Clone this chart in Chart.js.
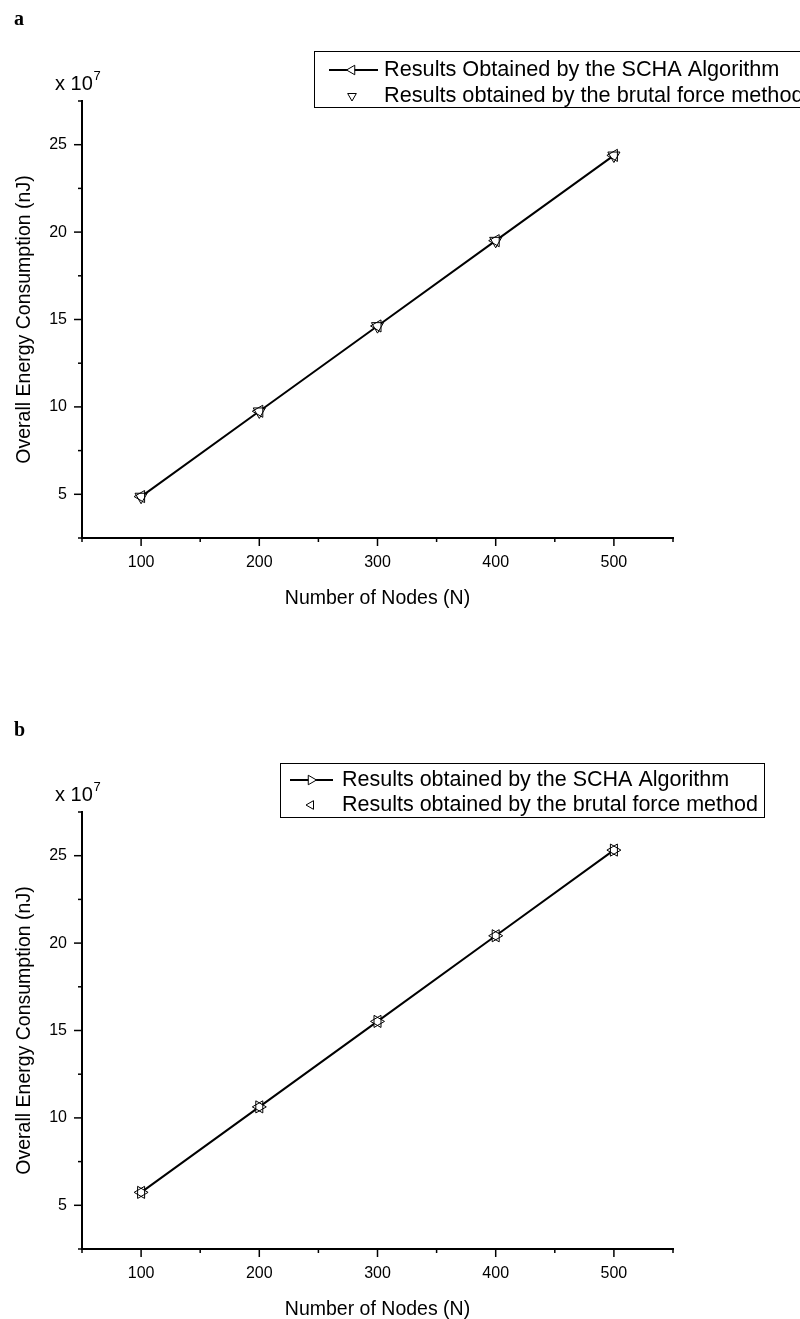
<!DOCTYPE html>
<html>
<head>
<meta charset="utf-8">
<script src="https://cdn.jsdelivr.net/npm/chart.js@4.4.1/dist/chart.umd.min.js"></script>
<style>
  html, body { margin: 0; padding: 0; background: #fff; }
  body { width: 800px; height: 1319px; position: relative; overflow: hidden; }
  .panel { position: absolute; left: 0; width: 800px; height: 612px; }
</style>
</head>
<body>
<div class="panel" style="top:0px"><canvas id="chartA" width="800" height="612"></canvas></div>
<div class="panel" style="top:711px"><canvas id="chartB" width="800" height="612"></canvas></div>
<script>
// ---- data (values in units of 10^7 nJ) ----
const nodes = [100, 200, 300, 400, 500];
const schaA = [4.87, 9.75, 14.63, 19.51, 24.39];
const bruteA = [4.86, 9.74, 14.62, 19.50, 24.38];
const schaB = [5.74, 10.63, 15.52, 20.42, 25.32];
const bruteB = [5.74, 10.63, 15.52, 20.42, 25.32];

const xMajorTicks = [100, 200, 300, 400, 500];
const xMinorTicks = [50, 150, 250, 350, 450, 550];
const yMajorTicks = [5, 10, 15, 20, 25];
const yMinorTicks = [2.5, 7.5, 12.5, 17.5, 22.5, 27.5];

const labelsA = ['Results Obtained by the SCHA Algorithm', 'Results obtained by the brutal force method'];
const labelsB = ['Results obtained by the SCHA Algorithm', 'Results obtained by the brutal force method'];

const FONT = "'Liberation Sans', Arial, sans-serif";

function tri(ctx, cx, cy, r, rotDeg, fill) {
  let rad = rotDeg * Math.PI / 180;
  ctx.beginPath();
  ctx.moveTo(cx + Math.sin(rad) * r, cy - Math.cos(rad) * r);
  rad += 2 * Math.PI / 3;
  ctx.lineTo(cx + Math.sin(rad) * r, cy - Math.cos(rad) * r);
  rad += 2 * Math.PI / 3;
  ctx.lineTo(cx + Math.sin(rad) * r, cy - Math.cos(rad) * r);
  ctx.closePath();
  if (fill) { ctx.fillStyle = fill; ctx.fill(); }
  ctx.lineWidth = 1;
  ctx.strokeStyle = '#000';
  ctx.stroke();
}

const decor = {
  id: 'decor',
  afterDraw(chart, args, o) {
    const ctx = chart.ctx;
    const xs = chart.scales.x, ys = chart.scales.y;
    ctx.save();
    ctx.strokeStyle = '#000';
    ctx.lineWidth = 1.5;
    const ln = (a, b, c, d) => { ctx.beginPath(); ctx.moveTo(a, b); ctx.lineTo(c, d); ctx.stroke(); };
    const axY = chart.chartArea.bottom, axX = chart.chartArea.left;
    xMajorTicks.forEach(v => { const p = xs.getPixelForValue(v); ln(p, axY, p, axY + 8); });
    xMinorTicks.forEach(v => { const p = xs.getPixelForValue(v); ln(p, axY, p, axY + 4); });
    yMajorTicks.forEach(v => { const p = ys.getPixelForValue(v); ln(axX - 8, p, axX, p); });
    yMinorTicks.forEach(v => { const p = ys.getPixelForValue(v); ln(axX - 4, p, axX, p); });

    // panel letter
    ctx.fillStyle = '#000';
    ctx.textBaseline = 'alphabetic';
    ctx.textAlign = 'left';
    ctx.font = "bold 20px 'Liberation Serif', 'Times New Roman', serif";
    ctx.fillText(o.letter, 14, 25);

    // exponent label
    ctx.font = '20px ' + FONT;
    ctx.fillText('x 10', 55, 90);
    ctx.font = '13px ' + FONT;
    ctx.fillText('7', 93.5, 80);

    // legend
    const L = o.legend;
    ctx.lineWidth = 1;
    ctx.strokeStyle = '#000';
    ctx.strokeRect(L.x + 0.5, L.y + 0.5, L.w, L.h);
    const ds = chart.data.datasets;
    ctx.lineWidth = 2;
    ln(L.lineX1, L.row1, L.lineX2, L.row1);
    tri(ctx, L.triX, L.row1, 5.5, ds[0].pointRotation, '#fff');
    tri(ctx, L.triX, L.row2, 5, ds[1].pointRotation, '#fff');
    ctx.fillStyle = '#000';
    ctx.font = L.font + 'px ' + FONT;
    ctx.textBaseline = 'middle';
    ctx.fillText(ds[0].label, L.textX, L.row1);
    ctx.fillText(ds[1].label, L.textX, L.row2);
    ctx.restore();
  }
};

function makeChart(id, scha, brute, labels, rotS, rotB, letter, legend) {
  new Chart(document.getElementById(id), {
    type: 'line',
    data: {
      datasets: [
        {
          label: labels[0],
          data: nodes.map((n, i) => ({ x: n, y: scha[i] })),
          borderColor: '#000', borderWidth: 2,
          pointStyle: 'triangle', pointRotation: rotS, pointRadius: 7,
          pointBackgroundColor: '#fff', pointBorderColor: '#000', pointBorderWidth: 1,
          showLine: true, tension: 0, order: 2
        },
        {
          label: labels[1],
          data: nodes.map((n, i) => ({ x: n, y: brute[i] })),
          borderColor: '#000', showLine: false,
          pointStyle: 'triangle', pointRotation: rotB, pointRadius: 7,
          pointBackgroundColor: 'rgba(0,0,0,0)', pointBorderColor: '#000', pointBorderWidth: 1,
          order: 1
        }
      ]
    },
    options: {
      responsive: false,
      animation: false,
      devicePixelRatio: 1,
      layout: { padding: { top: 101, right: 127, left: 0, bottom: 0 } },
      plugins: { legend: { display: false }, tooltip: { enabled: false }, decor: { letter, legend } },
      scales: {
        x: {
          type: 'linear', position: 'bottom', min: 50, max: 550,
          afterBuildTicks: s => { s.ticks = xMajorTicks.map(v => ({ value: v })); },
          afterFit: s => { s.height = 74; },
          grid: { display: false, drawTicks: false },
          border: { display: true, color: '#000', width: 2 },
          ticks: { color: '#000', font: { family: FONT, size: 16 }, padding: 15, maxRotation: 0, autoSkip: false },
          title: { display: true, text: 'Number of Nodes (N)', color: '#000', font: { family: FONT, size: 19.5 }, padding: { top: 0, bottom: 2 } }
        },
        y: {
          type: 'linear', position: 'left', min: 2.5, max: 27.5,
          afterBuildTicks: s => { s.ticks = yMajorTicks.map(v => ({ value: v })); },
          afterFit: s => { s.width = 82; },
          grid: { display: false, drawTicks: false },
          border: { display: true, color: '#000', width: 2 },
          ticks: { color: '#000', font: { family: FONT, size: 16 }, padding: 15, autoSkip: false },
          title: { display: true, text: 'Overall Energy Consumption (nJ)', color: '#000', font: { family: FONT, size: 19.5 }, padding: { top: 13, bottom: 0 } }
        }
      }
    },
    plugins: [decor]
  });
}

makeChart('chartA', schaA, bruteA, labelsA, 270, 180, 'a',
  { x: 314, y: 51, w: 520, h: 56, row1: 70, row2: 96, lineX1: 329, lineX2: 378, triX: 352, textX: 384, font: 21.7 });
makeChart('chartB', schaB, bruteB, labelsB, 90, 270, 'b',
  { x: 280, y: 52, w: 484, h: 54, row1: 69, row2: 94, lineX1: 290, lineX2: 333, triX: 311, textX: 342, font: 21.5 });
</script>
</body>
</html>
